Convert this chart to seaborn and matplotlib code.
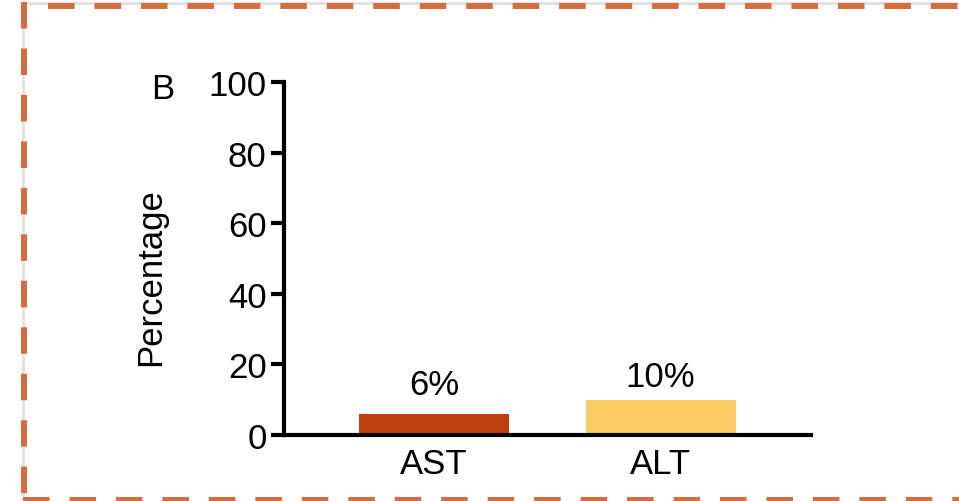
#####----- Panel B: percentage of abnormal liver enzymes (AST / ALT)

#####----- IMPORTS
import pandas as pd
import seaborn as sns
import matplotlib.pyplot as plt
from matplotlib.lines import Line2D

#####----- DATA
categories = ["AST", "ALT"]
percentages = [6, 10]
bar_labels = ["6%", "10%"]
bar_colors = ["#BC4010", "#FCCB66"]
y_ticks = [0, 20, 40, 60, 80, 100]
y_label = "Percentage"
panel_letter = "B"

#####----- STYLE
sns.set_style("ticks")
plt.rcParams['font.family'] = ['Liberation Sans', 'DejaVu Sans']
plt.rcParams['text.color'] = 'black'
plt.rcParams['axes.labelcolor'] = 'black'
FS = 25
border_color = '#D46C44'

W, H = 959, 502
fig = plt.figure(figsize=(W / 100, H / 100), dpi=100)

def fx(x):
    return x / W

def fy(y):
    return 1 - y / H

#####----- PLOT
ax = fig.add_axes([fx(284), fy(436), (811 - 284) / W, (436 - 83) / H])

df = pd.DataFrame({'test': categories, 'pct': percentages})
sns.barplot(data=df, x='test', y='pct', hue='test', palette=bar_colors,
            saturation=1, width=0.6625, linewidth=0, legend=False, ax=ax)

ax.set_xlim(-0.6625, 1.664)
ax.set_ylim(0, 100)
ax.set_yticks(y_ticks)
ax.set_xlabel('')
ax.set_ylabel(y_label, fontsize=FS, color='black')
ax.yaxis.set_label_coords(-0.222, 0.449)
sns.despine(ax=ax)

for side in ['left', 'bottom']:
    ax.spines[side].set_linewidth(3)
    ax.spines[side].set_color('black')
ax.tick_params(axis='y', length=9.5, width=3, pad=3, labelsize=FS, colors='black')
ax.tick_params(axis='x', length=0, pad=9, labelsize=FS, colors='black')

# value labels on top of each bar
pads = [9.5, 5]
for i, cont in enumerate(ax.containers):
    ax.bar_label(cont, labels=[bar_labels[i]], padding=pads[i], fontsize=FS,
                 color='black')

fig.text(fx(151), fy(99), panel_letter, fontsize=FS, ha='left', va='baseline',
         color='black')

#####----- DASHED FRAME
shade = '#E2E2E2'
fig.add_artist(Line2D([fx(24), 1], [fy(3.5), fy(3.5)], transform=fig.transFigure,
                      color=shade, lw=2.2, zorder=0))
fig.add_artist(Line2D([fx(23), fx(23)], [fy(4), 0], transform=fig.transFigure,
                      color=shade, lw=2.0, zorder=0))

dash = (0, (4.45, 3.33))
frame_kw = dict(transform=fig.transFigure, color=border_color, lw=4.3,
                linestyle=dash, dash_capstyle='butt', zorder=1)
fig.add_artist(Line2D([fx(48), 1], [fy(6.5), fy(6.5)], **frame_kw))
fig.add_artist(Line2D([fx(24), fx(24)], [fy(3), 0], **frame_kw))
fig.add_artist(Line2D([fx(23), 1], [fy(501), fy(501)], **frame_kw))

fig.savefig('out.png', dpi=100)
